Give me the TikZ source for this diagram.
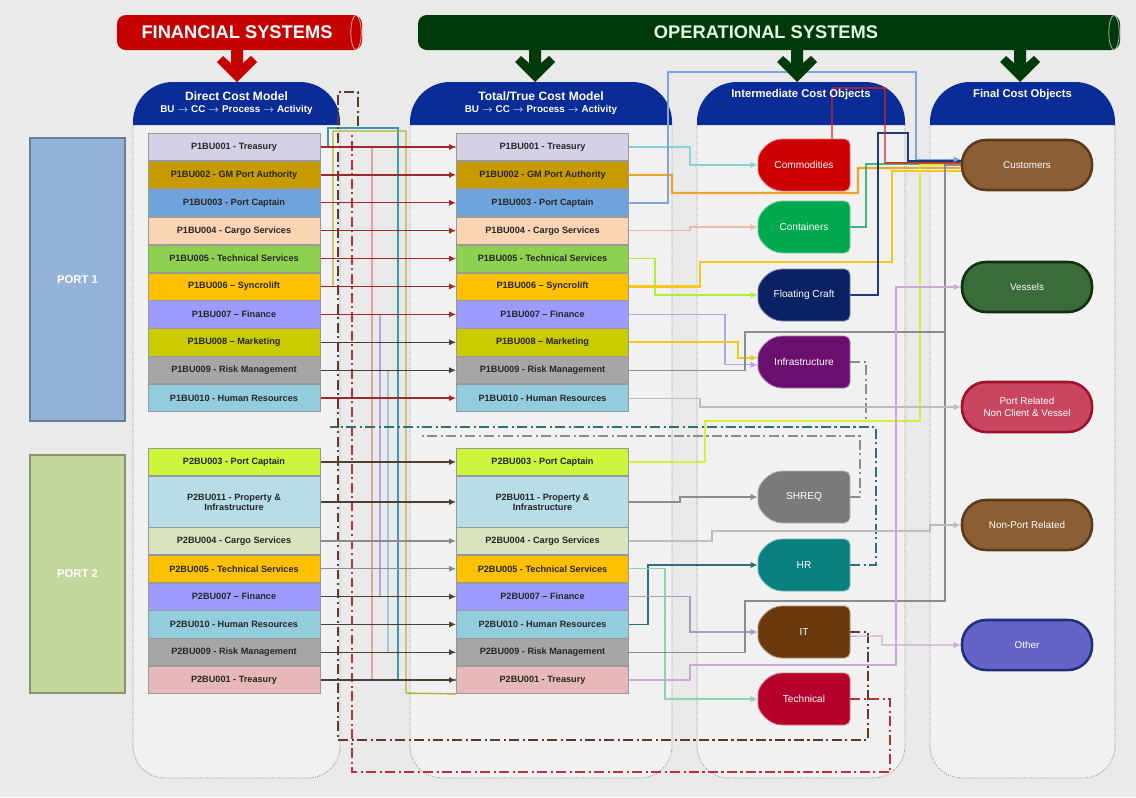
\documentclass[tikz,border=0pt]{standalone}
\usepackage{fontspec}
\setmainfont{Liberation Sans}
\usetikzlibrary{arrows.meta}
\pgfdeclarelayer{back}
\pgfdeclarelayer{mid}
\pgfsetlayers{back,mid,main}

\definecolor{bgc}{HTML}{EAEAEA}
\definecolor{bodyc}{HTML}{F1F1F1}
\definecolor{hdrc}{HTML}{0A2C96}
\definecolor{finred}{HTML}{C40000}
\definecolor{opgreen}{HTML}{003A0A}
\definecolor{portA}{HTML}{95B3D7}
\definecolor{portB}{HTML}{C3D69B}
\definecolor{cA}{HTML}{D6D0E6}
\definecolor{cB}{HTML}{C79A00}
\definecolor{cC}{HTML}{6EA3DC}
\definecolor{cD}{HTML}{FBD4B4}
\definecolor{cE}{HTML}{8ED150}
\definecolor{cF}{HTML}{FFC000}
\definecolor{cG}{HTML}{9C9CFF}
\definecolor{cH}{HTML}{CACA00}
\definecolor{cI}{HTML}{A6A6A6}
\definecolor{cJ}{HTML}{93CDDD}
\definecolor{dA}{HTML}{CCF53C}
\definecolor{dB}{HTML}{B7DDE8}
\definecolor{dC}{HTML}{D7E4BD}
\definecolor{dH}{HTML}{E6B9B8}
\definecolor{iComm}{HTML}{CC0000}
\definecolor{iCont}{HTML}{00A84F}
\definecolor{iFC}{HTML}{0A2263}
\definecolor{iInf}{HTML}{6A0F6E}
\definecolor{iSH}{HTML}{7A7A7A}
\definecolor{iHR}{HTML}{08807F}
\definecolor{iIT}{HTML}{6B3A0C}
\definecolor{iTec}{HTML}{B5002A}
\definecolor{fCust}{HTML}{8C5E33}
\definecolor{fCustB}{HTML}{5A3A1A}
\definecolor{fVes}{HTML}{3A6B3A}
\definecolor{fVesB}{HTML}{0F2F0F}
\definecolor{fPR}{HTML}{C8465F}
\definecolor{fPRB}{HTML}{A0102A}
\definecolor{fOth}{HTML}{6464C8}
\definecolor{fOthB}{HTML}{1F2F7A}
\definecolor{lred}{HTML}{9B2B2B}
\definecolor{ldark}{HTML}{3F3F3F}
\definecolor{lbrown}{HTML}{4D4033}
\definecolor{lteal}{HTML}{3C98A8}
\definecolor{lolive}{HTML}{B5B03C}
\definecolor{llav}{HTML}{B0A8E0}
\definecolor{lpink}{HTML}{E3A3A3}
\definecolor{lsky}{HTML}{9CC8E0}
\definecolor{lorange}{HTML}{F0A52A}
\definecolor{lyellow}{HTML}{F2C81E}
\definecolor{lgreen}{HTML}{3CB878}
\definecolor{lnavy}{HTML}{1F3A7A}
\definecolor{lsteel}{HTML}{7FA6D6}
\definecolor{llime}{HTML}{D2F03C}
\definecolor{lgray}{HTML}{8C8C8C}
\definecolor{lltgray}{HTML}{BDBDBD}
\definecolor{lcyan}{HTML}{86D3D3}
\definecolor{lpeach}{HTML}{F2B9A2}
\definecolor{lmauve}{HTML}{C9A9D9}
\definecolor{ddbrown}{HTML}{5C3B2A}
\definecolor{ddred}{HTML}{B3343A}
\definecolor{ddteal}{HTML}{2F6F78}

\newcommand\colbox[2]{%
  \fill[bodyc, rounded corners=0.8cm] (#1,125) -- (#1,778) -- (#2,778) -- (#2,125);
  \draw[black!45, densely dotted, line width=0.6pt, rounded corners=0.8cm] (#1,125) -- (#1,778) -- (#2,778) -- (#2,125);
  \fill[hdrc, rounded corners=1cm] (#1,125) -- (#1,82) -- (#2,82) -- (#2,125);}
\newcommand\blockarr[2]{%
  \fill[#2] (#1-6,50) -- (#1+6,50) -- (#1+6,63) -- (#1+14,56) -- (#1+20,62) -- (#1,82) -- (#1-20,62) -- (#1-14,56) -- (#1-6,63) -- cycle;}
\newcommand\icobj[5]{%
  \filldraw[fill=#4, draw=#4!55!white, line width=0.6pt, rounded corners=4pt] (#2+46,#3-26) -- (#2-16,#3-26) .. controls (#2-36,#3-26) and (#2-46,#3-12) .. (#2-46,#3) .. controls (#2-46,#3+12) and (#2-36,#3+26) .. (#2-16,#3+26) -- (#2+46,#3+26) -- cycle;
  \node[icotext] (#1) at (#2,#3) {#5};}
\newcommand\burow[5]{%
  \node[lbox, fill=#3, minimum height=#5] (L#1) at (234,#2) {#4};
  \node[lbox, fill=#3, minimum height=#5] (M#1) at (542.5,#2) {#4};}

\begin{document}
\begin{tikzpicture}[x=0.025cm,y=-0.025cm,
  tip/.style={-{Latex[length=5pt,width=4.4pt]}},
  lbox/.style={draw=black!40,line width=0.5pt,minimum width=4.3cm,inner sep=1pt,font=\fontsize{6.5}{7.3}\selectfont\bfseries,text=black!85,align=center},
  portbox/.style={draw=#1!70!black, fill=#1, line width=0.8pt, minimum width=2.375cm, text=white, font=\fontsize{8}{9}\selectfont\bfseries},
  icotext/.style={minimum width=2.3cm,minimum height=1.3cm,inner sep=0pt,text=white,font=\fontsize{7.2}{8.5}\selectfont},
  final/.style={rounded corners=0.6cm,minimum width=3.25cm,minimum height=1.25cm,line width=1.8pt,text=white,font=\fontsize{7}{8.4}\selectfont,align=center},
  hdrtext/.style={text=white,font=\fontsize{8.6}{10}\selectfont\bfseries,align=center},
  bannertext/.style={font=\fontsize{13}{15}\selectfont\bfseries},
  wire/.style={line width=0.8pt},
  thick wire/.style={line width=1.5pt},
  dashdot/.style={line width=1.3pt,dash pattern=on 7pt off 2.5pt on 1.5pt off 2.5pt},
]
\useasboundingbox (0,0) rectangle (1136,797);

\begin{pgfonlayer}{back}
\fill[bgc] (0,0) rectangle (1136,797);
\colbox{133}{340}
\colbox{410}{672}
\colbox{697}{905}
\colbox{930}{1115}
% banners
\fill[finred, rounded corners=0.22cm] (117,15) rectangle (362,50);
\draw[finred!40!white, line width=0.6pt] (356,32.5) ellipse [x radius=0.13cm, y radius=0.43cm];
\fill[opgreen, rounded corners=0.22cm] (418,15) rectangle (1120,50);
\draw[opgreen!40!white, line width=0.6pt] (1114,32.5) ellipse [x radius=0.13cm, y radius=0.43cm];
\end{pgfonlayer}

\blockarr{237}{finred}
\blockarr{535}{opgreen}
\blockarr{797}{opgreen}
\blockarr{1020}{opgreen}

\node[bannertext, text=white] (fin) at (237,32) {FINANCIAL SYSTEMS};
\node[bannertext, text=green!10!white] (ops) at (766,32) {OPERATIONAL SYSTEMS};

\node[hdrtext] (h1) at (236.5,103) {Direct Cost Model\\[-1pt]{\fontsize{7}{8}\selectfont BU $\rightarrow$ CC $\rightarrow$ Process $\rightarrow$ Activity}};
\node[hdrtext] (h2) at (541,103) {Total/True Cost Model\\[-1pt]{\fontsize{7}{8}\selectfont BU $\rightarrow$ CC $\rightarrow$ Process $\rightarrow$ Activity}};
\node[hdrtext, font=\fontsize{8}{10}\selectfont\bfseries] (h3) at (801,95) {Intermediate Cost Objects};
\node[hdrtext, font=\fontsize{8}{10}\selectfont\bfseries] (h4) at (1022.5,95) {Final Cost Objects};

\node[portbox=portA, minimum height=7.075cm] (port1) at (77.5,279.5) {PORT 1};
\node[portbox=portB, minimum height=5.95cm] (port2) at (77.5,574) {PORT 2};

\burow{1}{147}{cA}{P1BU001 - Treasury}{0.68cm}
\burow{2}{174.9}{cB}{P1BU002 - GM Port Authority}{0.68cm}
\burow{3}{202.8}{cC}{P1BU003 - Port Captain}{0.68cm}
\burow{4}{230.7}{cD}{P1BU004 - Cargo Services}{0.68cm}
\burow{5}{258.6}{cE}{P1BU005 - Technical Services}{0.68cm}
\burow{6}{286.5}{cF}{P1BU006 -- Syncrolift}{0.68cm}
\burow{7}{314.4}{cG}{P1BU007 -- Finance}{0.68cm}
\burow{8}{342.3}{cH}{P1BU008 -- Marketing}{0.68cm}
\burow{9}{370.2}{cI}{P1BU009 - Risk Management}{0.68cm}
\burow{10}{398.1}{cJ}{P1BU010 - Human Resources}{0.68cm}
\burow{11}{462}{dA}{P2BU003 - Port Captain}{0.68cm}
\burow{12}{502}{dB}{P2BU011 - Property \&\\Infrastructure}{1.28cm}
\burow{13}{541}{dC}{P2BU004 - Cargo Services}{0.68cm}
\burow{14}{568.8}{cF}{P2BU005 - Technical Services}{0.68cm}
\burow{15}{596.6}{cG}{P2BU007 -- Finance}{0.68cm}
\burow{16}{624.4}{cJ}{P2BU010 - Human Resources}{0.68cm}
\burow{17}{652.2}{cI}{P2BU009 - Risk Management}{0.68cm}
\burow{18}{680}{dH}{P2BU001 - Treasury}{0.68cm}

\icobj{comm}{804}{165}{iComm}{Commodities}
\icobj{cont}{804}{227}{iCont}{Containers}
\icobj{fc}{804}{295}{iFC}{Floating Craft}
\icobj{inf}{804}{362}{iInf}{Infrastructure}
\icobj{shreq}{804}{497}{iSH}{SHREQ}
\icobj{hr}{804}{565}{iHR}{HR}
\icobj{it}{804}{632}{iIT}{IT}
\icobj{tech}{804}{699}{iTec}{Technical}

\node[final, fill=fCust, draw=fCustB] (cust) at (1027,165) {Customers};
\node[final, fill=fVes, draw=fVesB] (ves) at (1027,287) {Vessels};
\node[final, fill=fPR, draw=fPRB] (pr) at (1027,407) {Port Related\\Non Client \& Vessel};
\node[final, fill=fCust, draw=fCustB] (npr) at (1027,525) {Non-Port Related};
\node[final, fill=fOth, draw=fOthB] (oth) at (1027,645) {Other};

\begin{pgfonlayer}{mid}
% vertical trunks in the first gap
\draw[wire, lpink] (L18.east) -- (372,680) -- (372,147) -- (M1.west);
\draw[wire, llav] (L7.east) -- (380,314.4) -- (380,596.6) -- (M15.west);
\draw[wire, lsky] (L9.east) -- (388,370.2) -- (388,652.2) -- (M17.west);
\draw[wire, lteal] (L1.east) -- (328,147) -- (328,128) -- (398,128) -- (398,680) -- (M18.west);
\draw[wire, lolive, line width=1pt] (L6.east) -- (333,286.5) -- (333,131) -- (406,131) -- (406,693) -- (M18.south west);
% dash-dot loops
\draw[dashdot, ddbrown] (it.east) -- (868,632) -- (868,740) -- (338,740) -- (338,92) -- (358,92) -- (358,128);
\draw[dashdot, ddred] (tech.east) -- (890,699) -- (890,772) -- (352,772) -- (352,135);
\draw[dashdot, ddteal] (hr.east) -- (876,565) -- (876,427) -- (330,427);
\draw[dashdot, lgray, line width=0.9pt] (shreq.east) -- (860,497) -- (860,436) -- (420,436);
\draw[dashdot, lgray, line width=0.9pt] (inf.east) -- (866,362) -- (866,420);
% left -> middle
\foreach \i in {1,2,3,4,5,6,7,10} {\draw[wire, tip, lred, line width=0.9pt] (L\i.east) -- (M\i.west);}
\foreach \i in {8,9} {\draw[wire, tip, ldark, line width=0.9pt] (L\i.east) -- (M\i.west);}
\foreach \i in {11,12,15,16,17,18} {\draw[wire, tip, lbrown, line width=0.9pt] (L\i.east) -- (M\i.west);}
\foreach \i in {13,14} {\draw[wire, tip, lgray, line width=0.9pt] (L\i.east) -- (M\i.west);}
% middle -> intermediate / final
\draw[wire, tip, lcyan] (M1.east) -- (690,147) |- (comm.west);
\draw[wire, tip, lpeach] (M4.east) -- (690,230.7) |- (cont.west);
\draw[wire, tip, llime!80!green] (M5.east) -- (655,258.6) |- (fc.west);
\draw[wire, tip, llav] (M7.east) -- (725,314.4) |- ([yshift=-2pt]inf.west);
\draw[wire, tip, lyellow, line width=1.2pt] (M8.east) -- (738,342.3) |- ([yshift=3pt]inf.west);
\draw[wire, tip, lgray] (M12.east) -- (680,502) |- (shreq.west);
\draw[wire, tip, ddteal] (M16.east) -- (648,624.4) |- (hr.west);
\draw[wire, tip, lgray!40!llav] (M15.east) -- (690,596.6) |- (it.west);
\draw[wire, tip, lgreen!60!white] (M14.east) -- (665,568.8) |- (tech.west);
% to Customers
\draw[thick wire, lorange] (M2.east) -| (672,193) -| (858,168) -- ([yshift=-2pt]cust.west);
\draw[thick wire, lyellow] (M6.east) -- (700,286.5) -- (700,262) -- (892,262) |- ([yshift=-4pt]cust.west);
\draw[thick wire, lgreen] (cont.east) -- (866,227) |- ([yshift=1pt]cust.west);
\draw[thick wire, lnavy] (fc.east) -- (878,295) -- (878,133) -- (908,133) |- ([yshift=3pt]cust.west);
\draw[wire, iComm!85!white, line width=1pt] ([xshift=0.7cm]comm.north) -- (832,88) -- (885,88) |- ([yshift=1.5pt]cust.west);
\draw[wire, tip, lsteel, line width=1pt] (M3.east) -- (668,202.8) -- (668,72) -- (916,72) |- ([yshift=4pt]cust.west);
\draw[thick wire, llime] (M11.east) -- (705,462) -- (705,421) -- (920,421) |- (cust.west);
\draw[wire, lgray, line width=1pt] (M9.east) -- (745,370.2) -- (745,332) -- (945,332) |- (cust.west);
\draw[wire, lgray, line width=1pt] (M17.east) -- (745,652.2) -- (745,601) -- (945,601) -- (945,332);
% to other final objects
\draw[wire, tip, lltgray] (M10.east) -- (700,398.1) |- (pr.west);
\draw[wire, tip, lltgray] (M13.east) -- (712,541) -- (712,531) -- (930,531) |- (npr.west);
\draw[wire, tip, lmauve] (M18.east) -- (690,680) -- (690,665) -- (896,665) |- (ves.west);
\draw[wire, tip, lmauve] ([yshift=-3pt]it.east) -- (882,636) |- (oth.west);
\end{pgfonlayer}
\end{tikzpicture}
\end{document}
